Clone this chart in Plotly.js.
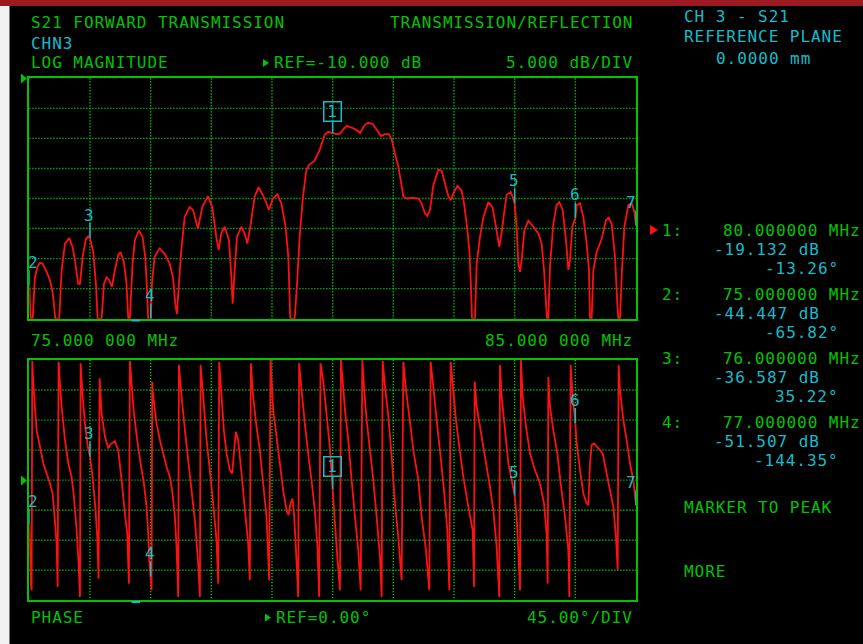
<!DOCTYPE html>
<html>
<head>
<meta charset="utf-8">
<script src="https://cdn.plot.ly/plotly-3.0.1.min.js"></script>
<style>
  html, body { margin: 0; padding: 0; background: #000; }
  #plot { width: 863px; height: 644px; }
  /* widen the monospaced pitch of the screen lettering (also applies while Plotly measures it) */
  text.annotation-text { letter-spacing: 0.95px; }
  /* keep every dotted graticule line rendered the same way */
  .js-plotly-plot .plotly .gridlayer path { shape-rendering: auto !important; }
</style>
</head>
<body>
<div id="plot"></div>
<script>
// ---- S21 log magnitude trace (MHz, dB) ----
const magFreq = [
  75.000, 75.022, 75.055, 75.093, 75.132, 75.176, 75.220, 75.286, 75.340, 75.379,
  75.406, 75.428, 75.494, 75.533, 75.588, 75.659, 75.714, 75.752, 75.807, 75.835,
  75.879, 75.934, 75.972, 76.000, 76.054, 76.098, 76.126, 76.192, 76.230, 76.274,
  76.318, 76.362, 76.411, 76.466, 76.505, 76.560, 76.603, 76.631, 76.658, 76.702,
  76.741, 76.807, 76.867, 76.911, 76.938, 76.960, 77.000, 77.021, 77.065, 77.147,
  77.230, 77.312, 77.368, 77.406, 77.433, 77.466, 77.505, 77.560, 77.643, 77.698,
  77.780, 77.852, 77.945, 78.016, 78.082, 78.121, 78.165, 78.220, 78.291, 78.330,
  78.352, 78.385, 78.423, 78.494, 78.549, 78.593, 78.643, 78.714, 78.780, 78.879,
  78.950, 79.016, 79.088, 79.154, 79.225, 79.269, 79.302, 79.374, 79.413, 79.456,
  79.511, 79.566, 79.610, 79.703, 79.786, 79.868, 79.923, 80.000, 80.066, 80.121,
  80.176, 80.231, 80.313, 80.396, 80.451, 80.533, 80.588, 80.659, 80.736, 80.797,
  80.863, 80.929, 80.973, 81.027, 81.082, 81.121, 81.165, 81.231, 81.330, 81.412,
  81.467, 81.522, 81.560, 81.604, 81.659, 81.742, 81.797, 81.852, 81.907, 81.945,
  81.989, 82.055, 82.126, 82.165, 82.209, 82.253, 82.280, 82.297, 82.346, 82.374,
  82.429, 82.484, 82.566, 82.637, 82.692, 82.747, 82.791, 82.824, 82.868, 82.934,
  82.967, 83.000, 83.033, 83.060, 83.088, 83.121, 83.159, 83.225, 83.308, 83.390,
  83.445, 83.484, 83.511, 83.533, 83.555, 83.582, 83.637, 83.692, 83.736, 83.791,
  83.846, 83.885, 83.912, 83.951, 84.000, 84.022, 84.077, 84.132, 84.187, 84.225,
  84.242, 84.269, 84.297, 84.352, 84.434, 84.505, 84.549, 84.599, 84.654, 84.692,
  84.709, 84.736, 84.769, 84.808, 84.874, 84.929, 84.973, 85.000
];
const magDb = [
  -44.447, -50, -50, -43.1, -41.4, -40.7, -40.8, -42.2, -43.6, -45.3,
  -47.5, -50, -50, -41.9, -37.5, -36.6, -38.1, -40.3, -44.2, -44.2,
  -39.7, -36.7, -36.3, -36.587, -38.9, -44.2, -50, -50, -44.2, -43.1,
  -43.6, -44.7, -41.9, -39.4, -38.9, -40.6, -44.2, -50, -50, -40.8,
  -36.9, -35.3, -36.4, -39.7, -44.7, -50, -51.507, -44.2, -39.7, -38.3,
  -39.2, -40.8, -43.1, -47.5, -49.2, -44.2, -38.6, -33.1, -31.4, -31.9,
  -35.0, -31.4, -29.6, -31.4, -36.4, -38.6, -35.8, -34.7, -36.9, -43.1,
  -47.5, -41.9, -36.4, -34.7, -35.8, -37.5, -34.7, -29.7, -28.1, -30.0,
  -31.9, -30.0, -29.3, -30.8, -34.7, -39.7, -50, -50, -44.2, -36.4,
  -29.7, -25.3, -24.4, -23.7, -21.9, -19.4, -18.9, -19.132, -19.3, -19.2,
  -18.5, -17.9, -18.2, -18.6, -19.1, -17.7, -17.4, -17.6, -18.7, -19.6,
  -19.3, -19.3, -20.2, -22.5, -24.7, -26.9, -29.7, -30.0, -29.9, -30.0,
  -30.8, -32.5, -32.9, -31.9, -27.8, -25.2, -25.4, -27.5, -29.6, -30.3,
  -29.2, -27.9, -28.7, -30.8, -34.2, -38.6, -44.7, -50, -50, -40.8,
  -36.4, -33.1, -30.6, -31.5, -34.7, -38.1, -35.3, -32.5, -29.4, -28.9,
  -29.7, -30.8, -34.7, -40.8, -42.2, -39.7, -35.3, -33.7, -34.7, -35.8,
  -37.5, -41.9, -46.4, -50, -50, -41.4, -34.2, -31.1, -30.6, -31.9,
  -36.9, -41.9, -40.3, -34.7, -33.2, -31.1, -30.8, -33.1, -37.5, -41.9,
  -50, -50, -41.9, -38.9, -36.7, -33.6, -33.2, -34.2, -39.7, -47.5,
  -50, -50, -41.9, -34.7, -31.1, -30.8, -32.2, -34.5
];

// ---- S21 phase trace (MHz, degrees, wrapped to +/-180) ----
const phFreq = [
  75.000, 75.027, 75.038, 75.049, 75.066, 75.093, 75.121, 75.176, 75.231, 75.286,
  75.340, 75.384, 75.417, 75.450, 75.467, 75.483, 75.505, 75.533, 75.588, 75.643,
  75.697, 75.736, 75.780, 75.813, 75.835, 75.846, 75.879, 75.917, 75.961, 76.000,
  76.043, 76.087, 76.120, 76.142, 76.159, 76.192, 76.247, 76.302, 76.340, 76.411,
  76.466, 76.521, 76.576, 76.614, 76.642, 76.658, 76.686, 76.724, 76.779, 76.834,
  76.889, 76.933, 76.960, 76.977, 77.000, 77.015, 77.026, 77.043, 77.098, 77.153,
  77.208, 77.262, 77.317, 77.361, 77.400, 77.427, 77.455, 77.466, 77.510, 77.565,
  77.619, 77.674, 77.729, 77.784, 77.812, 77.823, 77.867, 77.922, 77.976, 78.031,
  78.086, 78.114, 78.130, 78.169, 78.207, 78.251, 78.306, 78.345, 78.377, 78.405,
  78.443, 78.498, 78.553, 78.608, 78.635, 78.652, 78.690, 78.745, 78.800, 78.855,
  78.910, 78.954, 78.976, 79.020, 79.075, 79.130, 79.184, 79.239, 79.272, 79.305,
  79.338, 79.366, 79.393, 79.432, 79.448, 79.487, 79.541, 79.596, 79.651, 79.706,
  79.750, 79.778, 79.800, 79.843, 79.898, 79.953, 80.000, 80.038, 80.077, 80.121,
  80.137, 80.165, 80.203, 80.258, 80.313, 80.368, 80.423, 80.462, 80.489, 80.516,
  80.560, 80.615, 80.670, 80.725, 80.780, 80.808, 80.824, 80.863, 80.918, 80.973,
  81.027, 81.082, 81.137, 81.165, 81.209, 81.264, 81.330, 81.412, 81.467, 81.538,
  81.593, 81.615, 81.659, 81.714, 81.780, 81.835, 81.890, 81.923, 81.945, 81.978,
  82.033, 82.088, 82.154, 82.236, 82.308, 82.330, 82.341, 82.374, 82.429, 82.511,
  82.593, 82.648, 82.703, 82.747, 82.758, 82.786, 82.841, 82.896, 82.951, 83.000,
  83.033, 83.060, 83.088, 83.104, 83.132, 83.187, 83.253, 83.335, 83.418, 83.484,
  83.527, 83.544, 83.555, 83.582, 83.637, 83.703, 83.758, 83.830, 83.885, 83.901,
  83.923, 83.956, 84.000, 84.022, 84.077, 84.132, 84.187, 84.214, 84.242, 84.269,
  84.308, 84.379, 84.451, 84.516, 84.571, 84.626, 84.670, 84.698, 84.714, 84.736,
  84.791, 84.846, 84.901, 84.956, 85.000
];
const phDeg = [
  -65.82, -155, -165, 179, 145, 110, 75, 50, 25, 10,
  -5, -20, -55, -95, -160, 177.5, 145, 110, 60, 25,
  5, -25, -75, -125, -175, 175, 125, 85, 52.5, 35.22,
  5, -40, -85, -147.5, 152.5, 100, 65, 47.5, 54, 58.5,
  45, 0, -50, -80, -155, 179, 145, 100, 60, 25,
  -5, -40, -80, -120, -144.35, -165, 147.5, 125, 85, 60,
  40, 20, 5, -20, -55, -100, -175, 172.5, 125, 75,
  30, -15, -60, -125, -175, 172.5, 125, 60, 15, -35,
  -90, -155, 177.5, 125, 75, 40, 15, 10, 45, 72.5,
  60, 10, -45, -95, -150, 175, 125, 80, 45, -5,
  -55, -150, 180, 105, 65, 25, -15, -45, -52.5, -35,
  -27.5, -55, -100, -175, 175, 135, 85, 40, 0, -45,
  -100, -175, 175, 150, 100, 50, -13.26, -65, -115, -165,
  180, 150, 105, 60, 0, -55, -105, -165, 180, 140,
  90, 45, 0, -55, -115, -175, 179, 140, 95, 35,
  -35, -85, -150, 177.5, 135, 95, 45, 0, -55, -105,
  -165, 177.5, 140, 90, 35, -15, -75, -165, 177.5, 145,
  90, 50, 5, -40, -75, -160, 147.5, 110, 80, 35,
  -10, -45, -100, -175, 172.5, 125, 75, 25, 0, -22.5,
  -55, -105, -165, 180, 125, 80, 40, 15, -5, -35,
  -80, -155, 155, 110, 75, 40, -5, -55, -105, -175,
  172.5, 125, 85.5, 55, 15, -20, -35, -37.5, 25, 52.5,
  55, 47.5, 40, 10, -15, -40, -85, -135, 172.5, 135,
  90, 60, 25, 0, -37.5
];

// ---- markers (marker 1 is the active one) ----
const markerNum = ['1', '2', '3', '4', '5', '6', '7'];
const markerFreq = [80, 75, 76, 77, 83, 84, 85];
const markerMag = [-19.132, -44.447, -36.587, -51.507, -30.8, -33.2, -34.5];
const markerPhase = [-13.26, -65.82, 35.22, -144.35, -22.5, 85.5, -37.5];

// ---- scale settings ----
const startMHz = 75, stopMHz = 85;
const magRef = -10, magPerDiv = 5, magDivs = 8;
const phRef = 0, phPerDiv = 45, phDivs = 8;

const W = 863, H = 644;
const GREEN = '#00c400', GRID = '#00d000', CYAN = '#14bccc', RED = '#ff1010';
const FONT = 'DejaVu Sans Mono';
const FS = 16;
const fx = x => x / W;
const fy = y => 1 - y / H;

function txt(text, x, y, color, anchor) {
  return {
    text: text, x: fx(x), y: fy(y), xref: 'paper', yref: 'paper',
    xanchor: anchor || 'left', yanchor: 'middle', showarrow: false,
    font: { family: FONT, size: FS, color: color }
  };
}
function tri(pts, color) {
  const d = pts.map((p, i) => (i ? 'L' : 'M') + fx(p[0]) + ',' + fy(p[1])).join(' ') + ' Z';
  return { type: 'path', xref: 'paper', yref: 'paper', path: d,
           fillcolor: color, line: { color: color, width: 0 } };
}

const magRange = [magRef - magPerDiv * magDivs, magRef];
const phRange = [phRef - phPerDiv * phDivs / 2, phRef + phPerDiv * phDivs / 2];

const axisBase = {
  showgrid: true, gridcolor: GRID, griddash: '1.2px,1.8px', gridwidth: 1.4,
  showline: true, mirror: true, linecolor: GREEN, linewidth: 2,
  showticklabels: false, ticks: '', zeroline: false, fixedrange: true
};
const plotX = [fx(29.3), fx(636)];

const traces = [
  { x: magFreq, y: magDb, xaxis: 'x', yaxis: 'y', type: 'scatter', mode: 'lines',
    line: { color: RED, width: 1.8, simplify: false }, hoverinfo: 'skip' },
  { x: phFreq, y: phDeg, xaxis: 'x2', yaxis: 'y2', type: 'scatter', mode: 'lines',
    line: { color: RED, width: 1.8, simplify: false }, hoverinfo: 'skip' }
];

const shapes = [
  // window chrome
  { type: 'rect', xref: 'paper', yref: 'paper', x0: 0, x1: 1, y0: fy(6), y1: 1,
    fillcolor: '#9c1a22', line: { width: 0 } },
  { type: 'rect', xref: 'paper', yref: 'paper', x0: 0, x1: fx(9.5), y0: 0, y1: fy(6),
    fillcolor: '#f2f2f2', line: { width: 0 } },
  // reference-position arrows at the left of each graticule
  tri([[21, 73.5], [27, 78.5], [21, 83.5]], GREEN),
  tri([[21, 475.5], [27, 480.5], [21, 485.5]], GREEN),
  // arrows in front of the REF readouts
  tri([[263, 59], [269, 63], [263, 67]], GREEN),
  tri([[265, 613.5], [271, 617.5], [265, 621.5]], GREEN),
  // active-marker pointer
  tri([[650, 225], [658, 230], [650, 235]], '#ff1010'),
  // stimulus indicator under each graticule
  { type: 'line', xref: 'paper', yref: 'paper', x0: fx(131.5), x1: fx(140), y0: fy(320.5), y1: fy(320.5),
    line: { color: CYAN, width: 2 } },
  { type: 'line', xref: 'paper', yref: 'paper', x0: fx(131.5), x1: fx(140), y0: fy(602), y1: fy(602),
    line: { color: CYAN, width: 2 } }
];

const annotations = [
  txt('S21 FORWARD TRANSMISSION', 29, 22.5, GREEN),
  txt('TRANSMISSION/REFLECTION', 635, 22.5, GREEN, 'right'),
  txt('CHN3', 29, 43.5, CYAN),
  txt('LOG MAGNITUDE', 29, 62.5, GREEN),
  txt('REF=' + magRef.toFixed(3) + ' dB', 272, 62.5, GREEN),
  txt(magPerDiv.toFixed(3) + ' dB/DIV', 635, 62.5, GREEN, 'right'),
  txt('CH 3 - S21', 682, 16, CYAN),
  txt('REFERENCE PLANE', 682, 37, CYAN),
  txt('0.0000 mm', 714, 58, CYAN),
  txt(startMHz.toFixed(3) + ' 000 MHz', 29, 340, GREEN),
  txt(stopMHz.toFixed(3) + ' 000 MHz', 635, 340, GREEN, 'right'),
  txt('PHASE', 29, 617.5, GREEN),
  txt('REF=' + phRef.toFixed(2) + '°', 274, 617.5, GREEN),
  txt(phPerDiv.toFixed(2) + '°/DIV', 635, 617.5, GREEN, 'right'),
  txt('MARKER TO PEAK', 682, 507, GREEN),
  txt('MORE', 682, 571, GREEN)
];

// marker readout table (markers 1-4)
for (let k = 0; k < 4; k++) {
  const y0 = 230 + 64 * k;
  annotations.push(txt(markerNum[k] + ':', 660, y0, GREEN));
  annotations.push(txt(markerFreq[k].toFixed(6) + ' MHz', 862.5, y0, GREEN, 'right'));
  annotations.push(txt(markerMag[k].toFixed(3) + ' dB', 822, y0 + 19, CYAN, 'right'));
  annotations.push(txt(markerPhase[k].toFixed(2) + '°', 841, y0 + 38, CYAN, 'right'));
}

// marker flags on both traces
function addMarkers(values, range, xa, ya) {
  values.forEach((v, i) => {
    const f = markerFreq[i];
    const yv = Math.min(Math.max(v, range[0]), range[1]);
    const active = i === 0;
    shapes.push({
      type: 'line', xref: xa, yref: ya, x0: f, x1: f,
      ysizemode: 'pixel', yanchor: yv, y0: 0, y1: active ? 12 : 15,
      line: { color: CYAN, width: 1.5 }
    });
    let xshift = 0;
    if (f <= startMHz) xshift = 4;
    if (f >= stopMHz) xshift = -5;
    const a = {
      text: markerNum[i], x: f, y: yv, xref: xa, yref: ya, showarrow: false,
      xanchor: 'center', yanchor: 'middle', xshift: xshift, yshift: active ? 22 : 23,
      font: { family: FONT, size: FS, color: CYAN }
    };
    if (active) {
      Object.assign(a, { bordercolor: CYAN, borderwidth: 1.5, borderpad: 1, width: 14, height: 16 });
    }
    annotations.push(a);
  });
}
addMarkers(markerMag, magRange, 'x', 'y');
addMarkers(markerPhase, phRange, 'x2', 'y2');

const layout = {
  width: W, height: H, autosize: false,
  margin: { l: 0, r: 0, t: 0, b: 0, pad: 0 },
  paper_bgcolor: '#000', plot_bgcolor: '#000',
  showlegend: false,
  xaxis: Object.assign({}, axisBase, { domain: plotX, range: [startMHz, stopMHz], tick0: startMHz, dtick: 1, anchor: 'y' }),
  yaxis: Object.assign({}, axisBase, { domain: [fy(318.7), fy(78.3)], range: magRange, tick0: magRange[0], dtick: magPerDiv, anchor: 'x' }),
  xaxis2: Object.assign({}, axisBase, { domain: plotX, range: [startMHz, stopMHz], tick0: startMHz, dtick: 1, anchor: 'y2' }),
  yaxis2: Object.assign({}, axisBase, { domain: [fy(600.3), fy(360)], range: phRange, tick0: phRange[0], dtick: phPerDiv, anchor: 'x2' }),
  shapes: shapes,
  annotations: annotations
};

Plotly.newPlot('plot', traces, layout, { staticPlot: true, displayModeBar: false });
</script>
</body>
</html>
